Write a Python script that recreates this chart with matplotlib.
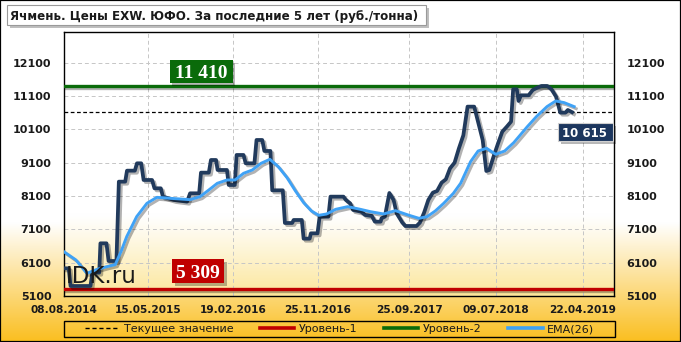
import numpy as np
import pandas as pd
import matplotlib
matplotlib.use("Agg")
import matplotlib.pyplot as plt
import matplotlib.patheffects as pe
from matplotlib.patches import Rectangle
from matplotlib.lines import Line2D

plt.rcParams['font.family'] = ['DejaVu Sans']

# ---------------- data ----------------
TITLE = "Ячмень. Цены EXW. ЮФО. За последние 5 лет (руб./тонна)"
BASE_DATE = "2014-08-08"

price_days = [0, 16, 22, 88, 94, 117, 121, 141, 148, 174, 182, 203, 209, 235, 242, 256,
              264, 292, 300, 321, 328, 365, 408, 418, 448, 454, 480, 487, 504, 509, 540,
              546, 566, 572, 595, 602, 631, 638, 657, 664, 684, 690, 725, 732, 756, 761,
              788, 794, 814, 818, 840, 847, 876, 883, 926, 934, 948, 958, 984, 998, 1020,
              1030, 1049, 1052, 1063, 1078, 1092, 1102, 1121, 1131, 1168, 1179, 1193,
              1207, 1222, 1236, 1251, 1265, 1279, 1294, 1308, 1323, 1337, 1359, 1373,
              1387, 1399, 1409, 1423, 1438, 1452, 1467, 1481, 1488, 1500, 1506, 1514,
              1539, 1553, 1568, 1582, 1601, 1615, 1630, 1644, 1661, 1669, 1683]
price_values = [5930, 5930, 5400, 5400, 5800, 5800, 6680, 6680, 6150, 6150, 8530, 8530,
                8860, 8860, 9080, 9080, 8580, 8580, 8330, 8330, 8080, 7980, 7930, 8180,
                8180, 8800, 8800, 9180, 9180, 8880, 8880, 8430, 8430, 9330, 9330, 9080,
                9080, 9780, 9780, 9450, 9450, 8270, 8270, 7290, 7290, 7380, 7380, 6820,
                6820, 6980, 6980, 7480, 7480, 8080, 8080, 7980, 7880, 7680, 7630, 7530,
                7500, 7330, 7330, 7430, 7480, 8190, 7980, 7580, 7300, 7200, 7200, 7300,
                7600, 7980, 8200, 8250, 8500, 8600, 8930, 9100, 9520, 9920, 10780, 10780,
                10280, 9780, 8850, 8880, 9280, 9680, 10030, 10180, 10330, 11300, 11300,
                10950, 11120, 11120, 11280, 11350, 11400, 11400, 11300, 11080, 10600,
                10600, 10680, 10615]

ema_days = [0, 40, 76, 110, 142, 170, 190, 208, 241, 275, 308, 352, 418, 451, 480, 508,
            540, 567, 595, 624, 653, 682, 710, 739, 767, 794, 820, 844, 870, 900, 940,
            982, 1015, 1059, 1098, 1140, 1176, 1203, 1230, 1258, 1290, 1314, 1347, 1372,
            1400, 1430, 1460, 1490, 1535, 1565, 1600, 1629, 1657, 1690]
ema_values = [6430, 6180, 5780, 5900, 5980, 6040, 6450, 6880, 7480, 7880, 8060, 8030,
              7990, 8080, 8280, 8480, 8580, 8580, 8780, 8880, 9080, 9200, 8980, 8650,
              8250, 7900, 7650, 7520, 7560, 7700, 7780, 7700, 7630, 7560, 7660, 7530,
              7430, 7480, 7650, 7880, 8180, 8480, 9130, 9450, 9530, 9350, 9450, 9700,
              10180, 10480, 10780, 10950, 10900, 10780]

level_1 = 5309
level_2 = 11410
current_value = 10615

x_tick_labels = ["08.08.2014", "15.05.2015", "19.02.2016", "25.11.2016",
                 "25.09.2017", "09.07.2018", "22.04.2019"]
y_ticks = [5100, 6100, 7100, 8100, 9100, 10100, 11100, 12100]
legend_labels = ["Текущее значение", "Уровень-1", "Уровень-2", "EMA(26)"]
watermark = "IDK.ru"

# ---------------- styling ----------------
W, H = 681, 342
C_PRICE = '#213a5c'
C_EMA = '#3fa2f6'
C_L1 = '#c00000'
C_L2 = '#0a6b0a'
C_NAVY = '#1c365e'
TXT = '#1a1a1a'

base = pd.Timestamp(BASE_DATE)
price_dates = base + pd.to_timedelta(price_days, unit='D')
ema_dates = base + pd.to_timedelta(ema_days, unit='D')
tick_dates = pd.to_datetime(x_tick_labels, format="%d.%m.%Y")

fig = plt.figure(figsize=(W / 100, H / 100), dpi=100)

# plot area in pixels
L, R, T, B = 63.9, 614.0, 32.3, 296.0


def fx(x):
    return x / W


def fy(y):
    return 1 - y / H


# background gradients
bg = fig.add_axes([0, 0, 1, 1], zorder=-10)
bg.axis('off')
ys = np.arange(H)
t = np.clip((ys - 222) / (H - 222), 0, 1)
c0 = np.array([1.0, 1.0, 1.0])
c1 = np.array([250, 190, 30]) / 255
grad = (c0[None, :] * (1 - t[:, None]) + c1[None, :] * t[:, None])[:, None, :]
bg.imshow(grad, aspect='auto', extent=[0, 1, 0, 1], interpolation='bilinear')
ys2 = np.linspace(T, B, 200)
t2 = np.clip((ys2 - 215) / (B - 215), 0, 1) ** 1.1
c2 = np.array([252, 230, 155]) / 255
grad2 = (c0[None, :] * (1 - t2[:, None]) + c2[None, :] * t2[:, None])[:, None, :]
bg.imshow(grad2, aspect='auto', extent=[fx(L), fx(R), fy(B), fy(T)], interpolation='bilinear')
bg.set_xlim(0, 1)
bg.set_ylim(0, 1)

ax = fig.add_axes([fx(L), fy(B), (R - L) / W, (B - T) / H])
ax.set_facecolor('none')

grid_ls = (0, (4, 3))
ax.grid(True, color='#c6c6c6', linestyle=grid_ls, linewidth=0.7)
ax.set_axisbelow(True)

shadow = [pe.SimpleLineShadow(offset=(1.5, -1.5), shadow_color='black', alpha=0.3), pe.Normal()]

ax.axhline(level_2, color=C_L2, lw=2.4, path_effects=shadow, zorder=3)
ax.axhline(level_1, color=C_L1, lw=2.4, path_effects=shadow, zorder=3)
ax.axhline(current_value, color='black', lw=0.9, ls=(0, (3, 2)), zorder=3)
ax.plot(price_dates, price_values, color=C_PRICE, lw=2.7, path_effects=shadow, zorder=4,
        solid_joinstyle='round')
ax.plot(ema_dates, ema_values, color=C_EMA, lw=2.1, path_effects=shadow, zorder=5)

ax.set_xlim(base, pd.Timestamp("2019-08-04"))
ax.set_ylim(5100, 13010)
ax.set_yticks(y_ticks)
ax.set_yticklabels([str(v) for v in y_ticks])
ax.set_xticks(tick_dates)
ax.set_xticklabels(x_tick_labels)
ax.tick_params(axis='y', length=0, pad=9, labelleft=True, labelright=True,
               labelsize=8, labelcolor=TXT)
ax.tick_params(axis='x', length=0, pad=6.5, labelsize=7.6, labelcolor=TXT)
for tk in ax.yaxis.get_major_ticks():
    tk.label1.set_fontweight('bold')
    tk.label2.set_fontweight('bold')
for tk in ax.xaxis.get_major_ticks():
    tk.label1.set_fontweight('bold')
for s in ax.spines.values():
    s.set_color('black')
    s.set_linewidth(1.0)

ax.text(0.004, 0.05, watermark, transform=ax.transAxes, fontsize=16.5, color='#1a1a1a',
        va='baseline', ha='left', zorder=6)


def px_box(cx, cy, w, h, fc, ec, text, fontsize, family, sh=3):
    x0 = fx(cx - w / 2)
    y0 = fy(cy + h / 2)
    fig.add_artist(Rectangle((x0 + sh / W, y0 - sh / H), w / W, h / H, transform=fig.transFigure,
                             fc='black', ec='none', alpha=0.28, zorder=20))
    fig.add_artist(Rectangle((x0, y0), w / W, h / H, transform=fig.transFigure,
                             fc=fc, ec=ec, lw=0.8, zorder=21))
    fig.text(fx(cx), fy(cy), text, ha='center', va='center_baseline', color='white',
             fontsize=fontsize, fontweight='bold', family=family, zorder=22)


def fmt(v):
    return f"{v:,}".replace(",", " ")


px_box(201, 71.5, 63, 22.4, C_L2, 'none', fmt(level_2), 14, 'Liberation Serif')
px_box(197.6, 271, 52, 23.4, C_L1, 'none', fmt(level_1), 14, 'Liberation Serif')
px_box(585, 131.8, 55, 18.5, C_NAVY, '#d0d0d0', fmt(current_value), 8.5, 'DejaVu Sans')

# title box
fig.add_artist(Rectangle((fx(6.5) + 3 / W, fy(25) - 3 / H), (425.7 - 6.5) / W, 20 / H,
                         transform=fig.transFigure, fc='black', ec='none', alpha=0.25, zorder=20))
fig.add_artist(Rectangle((fx(6.5), fy(25)), (425.7 - 6.5) / W, 20 / H,
                         transform=fig.transFigure, fc='white', ec='#9a9a9a', lw=0.8, zorder=21))
fig.text(fx(9.5), fy(15.3), TITLE, ha='left', va='center_baseline', fontsize=8.6,
         fontweight='bold', color=TXT, zorder=22)

# legend
fig.add_artist(Rectangle((fx(64), fy(337)), (615 - 64) / W, 16 / H, transform=fig.transFigure,
                         fc='none', ec='black', lw=1.0, zorder=20))
handles = [Line2D([], [], color='black', lw=1.0, ls=(0, (3, 2))),
           Line2D([], [], color=C_L1, lw=2.6),
           Line2D([], [], color=C_L2, lw=2.6),
           Line2D([], [], color=C_EMA, lw=2.6)]
fig.legend(handles, legend_labels, loc='center', bbox_to_anchor=(fx((64 + 615) / 2), fy(329)),
           ncol=4, frameon=False, handlelength=3.1, handletextpad=0.4, columnspacing=2.4,
           prop={'size': 8}, borderpad=0.0, labelcolor=TXT)

# outer border
fig.add_artist(Rectangle((0, 0), 1, 1, transform=fig.transFigure, fc='none', ec='black',
                         lw=1.6, zorder=30))

fig.savefig("out.png", dpi=100)
